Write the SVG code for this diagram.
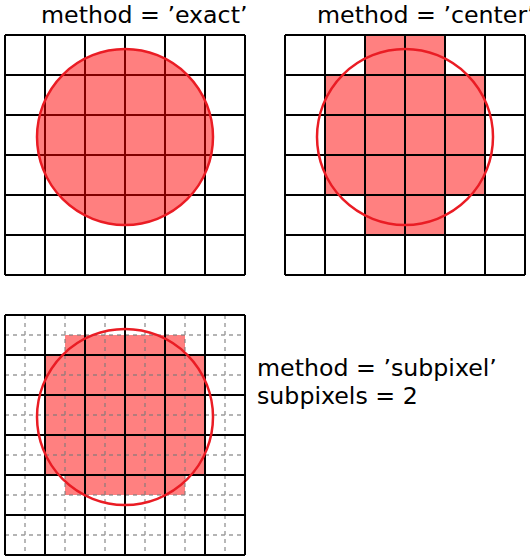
<svg xmlns="http://www.w3.org/2000/svg" width="530" height="560" viewBox="0 0 530 560">
<style>
.lbl{font-family:"DejaVu Sans",sans-serif;font-size:23.7px;fill:#000}
.grid{fill:none;stroke:#000;stroke-width:2}
.sub{fill:none;stroke:#7a7a7a;stroke-opacity:0.75;stroke-width:1.4;stroke-dasharray:4,4}
.pix{fill:#ff8080;stroke:none}
.circ{stroke:#ea1c24;stroke-width:2.5}
</style>
<defs>
<path id="g6" d="M5,35V275M45,35V275M85,35V275M125,35V275M165,35V275M205,35V275M245,35V275M5,35H245M5,75H245M5,115H245M5,155H245M5,195H245M5,235H245M5,275H245"/>
</defs>
<rect width="530" height="560" fill="#fff"/>
<g id="panel-exact">
<text class="lbl" x="41" y="22.5">method = ’exact’</text>
<use href="#g6" class="grid"/>
<circle class="circ" cx="125" cy="137" r="88" fill="#ff0000" fill-opacity="0.5"/>
</g>
<g id="panel-center">
<text class="lbl" x="317" y="22.5">method = ’center’</text>
<path class="pix" d="M365,35H445V75H485V195H445V235H365V195H325V75H365Z"/>
<use href="#g6" class="grid" transform="translate(280,0)"/>
<circle class="circ" cx="405" cy="137" r="88" fill="none"/>
</g>
<g id="panel-subpixel">
<path class="pix" d="M65,335H185V355H205V475H185V495H65V475H45V355H65Z"/>
<path class="sub" d="M25,315V555M65,315V555M105,315V555M145,315V555M185,315V555M225,315V555M5,335H245M5,375H245M5,415H245M5,455H245M5,495H245M5,535H245"/>
<use href="#g6" class="grid" transform="translate(0,280)"/>
<circle class="circ" cx="125" cy="417" r="88" fill="none"/>
<text class="lbl" x="257" y="376">method = ’subpixel’</text>
<text class="lbl" x="257" y="404">subpixels = 2</text>
</g>
</svg>
